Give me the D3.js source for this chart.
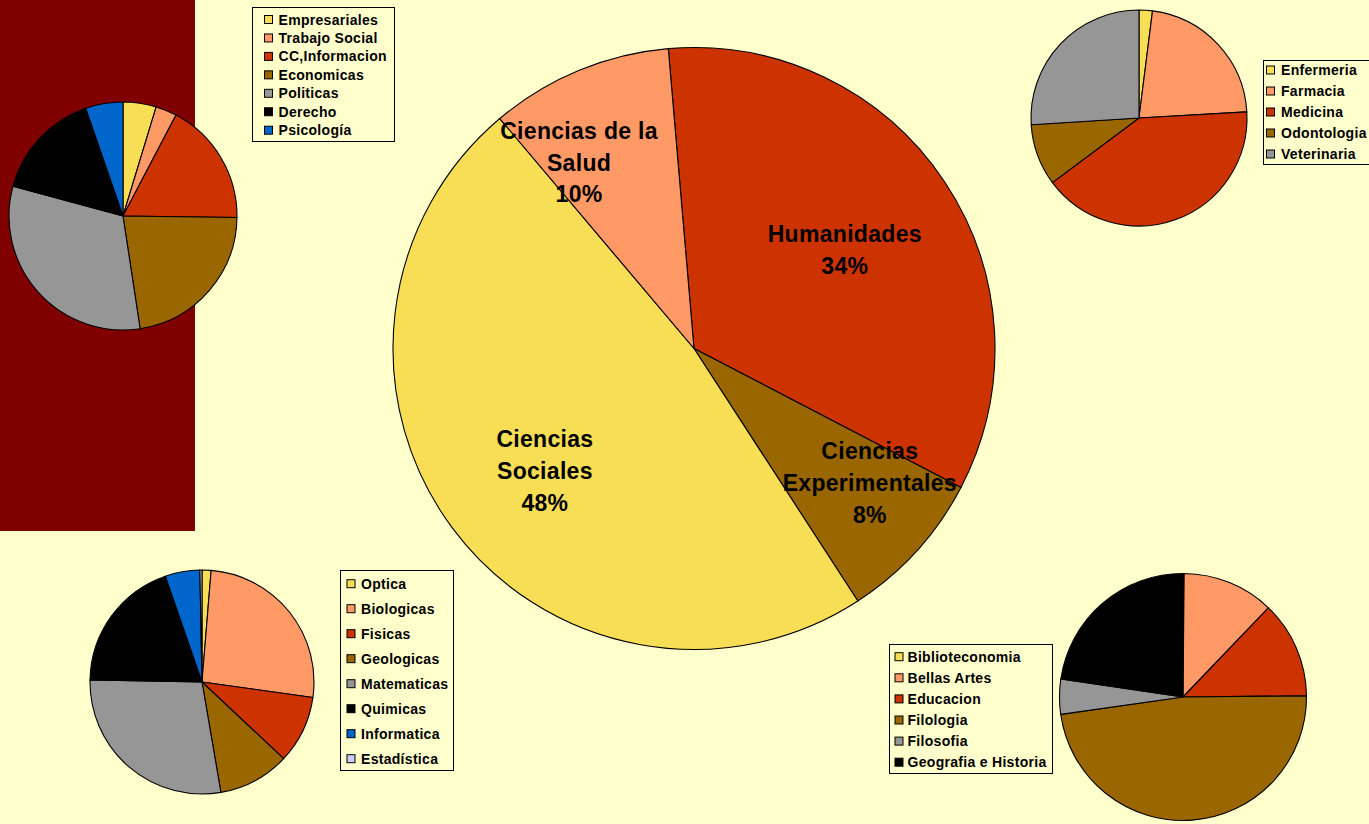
<!DOCTYPE html>
<html>
<head>
<meta charset="utf-8">
<script src="https://cdn.jsdelivr.net/npm/d3@7"></script>
<style>
  html, body { margin: 0; padding: 0; background: #FFFFCC; }
  text { font-family: Arial, "Liberation Sans", sans-serif; font-weight: bold; fill: #000; }
</style>
</head>
<body>
<div id="graph"></div>
<script>
// main pie (areas)
const mainCats = ["Humanidades", "Ciencias Experimentales", "Ciencias Sociales", "Ciencias de la Salud"];
const mainVals = [34.0, 8.2, 48.0, 9.8];
const mainLabelLines = [["Humanidades"], ["Ciencias", "Experimentales"], ["Ciencias", "Sociales"], ["Ciencias de la", "Salud"]];

// small pies (one per area)
const socialesCats = ["Empresariales", "Trabajo Social", "CC,Informacion", "Economicas", "Politicas", "Derecho", "Psicología"];
const socialesVals = [4.7, 3.0, 17.5, 22.4, 31.6, 15.5, 5.3];

const saludCats = ["Enfermeria", "Farmacia", "Medicina", "Odontologia", "Veterinaria"];
const saludVals = [2.0, 22.1, 40.7, 9.2, 26.0];

const experimentalesCats = ["Optica", "Biologicas", "Fisicas", "Geologicas", "Matematicas", "Quimicas", "Informatica", "Estadística"];
const experimentalesVals = [1.3, 25.9, 9.8, 10.3, 28.0, 19.4, 5.0, 0.3];

const humanidadesCats = ["Biblioteconomia", "Bellas Artes", "Educacion", "Filologia", "Filosofia", "Geografia e Historia"];
const humanidadesVals = [0.15, 12.0, 12.7, 47.9, 4.6, 22.65];

const palette = ["#F8DE55", "#FF9966", "#CC3300", "#996600", "#969696", "#000000", "#0066CC", "#CCCCFF"];
const mainColors = ["#CC3300", "#996600", "#F8DE55", "#FF9966"];

const width = 1369, height = 824;

const svg = d3.select("#graph")
    .append("svg")
    .attr("width", width)
    .attr("height", height);

svg.append("rect").attr("width", width).attr("height", height).attr("fill", "#FFFFCC");
// dark red panel behind the top left pie
svg.append("rect").attr("x", 0).attr("y", 0).attr("width", 195).attr("height", 531).attr("fill", "#800000");

const deg = Math.PI / 180;

function drawPie(cx, cy, r, cats, vals, colors, start) {
    const pie = d3.pie().sort(null).startAngle(start * deg).endAngle(start * deg + 2 * Math.PI);
    const arc = d3.arc().innerRadius(0).outerRadius(r);
    const g = svg.append("g").attr("transform", "translate(" + cx + "," + cy + ")");
    g.selectAll("path")
        .data(pie(vals))
        .enter().append("path")
        .attr("d", arc)
        .attr("fill", function(d, i) { return colors[i % colors.length]; })
        .attr("stroke", "#000")
        .attr("stroke-width", 1.1)
        .attr("stroke-linejoin", "round");
    return {g: g, pie: pie, arc: arc};
}

// box: x, y, w, h ; rows start at rowY, step apart ; swatch / text offsets from box left
function drawLegend(x, y, w, h, rowY, step, swX, txX, cats, colors) {
    const g = svg.append("g");
    g.append("rect")
        .attr("x", x + 0.5).attr("y", y + 0.5)
        .attr("width", w).attr("height", h)
        .attr("fill", "#FFFFCC")
        .attr("stroke", "#000")
        .attr("stroke-width", 1);
    const row = g.selectAll(".item")
        .data(cats)
        .enter().append("g")
        .attr("transform", function(d, i) { return "translate(" + x + "," + (rowY + i * step) + ")"; });
    row.append("rect")
        .attr("x", swX + 0.5).attr("y", -4)
        .attr("width", 8).attr("height", 8)
        .attr("fill", function(d, i) { return colors[i]; })
        .attr("stroke", "#000")
        .attr("stroke-width", 1);
    row.append("text")
        .attr("x", txX)
        .attr("y", 5)
        .style("font-size", "14px")
        .style("letter-spacing", "0.3px")
        .text(function(d) { return d; });
}

// main pie
const main = drawPie(694, 348.5, 301, mainCats, mainVals, mainColors, -4.9);
const total = d3.sum(mainVals);
const labelArc = d3.arc().innerRadius(301 * 0.65).outerRadius(301 * 0.65);
const labelNudge = [[-12, 10], [31, 3], [8, 6], [-40, -5]];
const lineH = 31.6;

main.g.selectAll(".lbl")
    .data(main.pie(mainVals))
    .enter().append("text")
    .attr("class", "lbl")
    .attr("text-anchor", "middle")
    .style("font-size", "23px")
    .style("letter-spacing", "0.3px")
    .each(function(d, i) {
        const c = labelArc.centroid(d);
        const lines = mainLabelLines[i].concat([d3.format(".0%")(mainVals[i] / total)]);
        const x = c[0] + labelNudge[i][0];
        const y0 = c[1] + labelNudge[i][1] - (lines.length - 1) / 2 * lineH + 8;
        d3.select(this).selectAll("tspan")
            .data(lines)
            .enter().append("tspan")
            .attr("x", x)
            .attr("y", function(t, j) { return y0 + j * lineH; })
            .text(function(t) { return t; });
    });

// small pies
drawPie(123, 216, 114, socialesCats, socialesVals, palette, 0);
drawPie(1139, 118, 108, saludCats, saludVals, palette, 0);
drawPie(202, 682, 112, experimentalesCats, experimentalesVals, palette, 0);
drawPie(1183, 697, 123.5, humanidadesCats, humanidadesVals, palette, 0);

// legends
drawLegend(252, 7, 142, 134, 19.5, 18.45, 12, 26.5, socialesCats, palette);
drawLegend(1263, 60, 112, 104, 70, 21, 3, 18, saludCats, palette);
drawLegend(340, 570, 113, 200, 583.7, 25, 6.5, 21, experimentalesCats, palette);
drawLegend(889, 644, 163, 129, 656.7, 21.1, 5.5, 18.5, humanidadesCats, palette);
</script>
</body>
</html>
